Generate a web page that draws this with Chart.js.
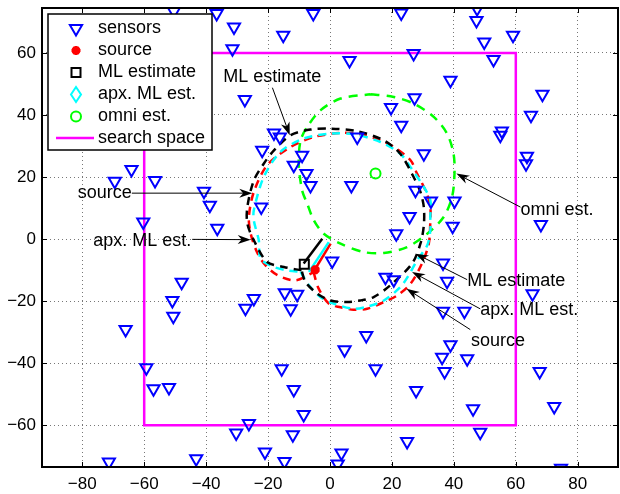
<!DOCTYPE html>
<html lang="en">
<head>
<meta charset="UTF-8">
<title>Source localisation</title>
<script src="https://cdn.jsdelivr.net/npm/chart.js"></script>
<style>
    body { margin: 0; background: #fff; }
    #wrap { width: 620px; height: 494px; }
</style>
</head>
<body>
<div id="wrap"><canvas id="chart" width="620" height="494"></canvas></div>
<script>
    // axis ticks
    const xTicks = [-80, -60, -40, -20, 0, 20, 40, 60, 80];
    const yTicks = [-60, -40, -20, 0, 20, 40, 60];

    // sensor positions
    const sensorX = [-50.4, -36.6, -31.0, -15.1, -5.4, -31.5, -27.5, -18.1, -16.2, -21.9, -9.0, -11.7, -7.6, -6.3,
        -64.1, -69.5, -56.5, -40.7, -38.8, -36.4, -60.3, -22.2, 23.0, 47.5, 47.3, 59.1, 49.8, 52.8, 27.0, 6.3,
        38.9, 68.6, 27.3, 19.7, 64.9, 23.0, 55.5, 55.0, 8.8, 30.3, 63.6, 63.3, 6.9, 27.6, 32.6, 40.2, 25.7, 39.6,
        68.1, 21.4, -47.9, -50.9, -50.6, -66.0, -27.3, -24.6, -14.6, -10.6, -12.7, -59.3, -57.0, -52.0, -15.6,
        -11.7, -8.5, -26.2, -30.3, -12.0, -21.0, -14.7, -43.2, -71.4, 0.7, 17.9, 20.6, 36.5, 37.8, 65.4, 36.5,
        43.4, 11.7, 4.7, 38.9, 36.2, 44.3, 37.0, 14.7, 67.7, 27.8, 46.2, 72.4, 48.5, 24.9, 3.7, 2.5, 74.6];
    const sensorY = [73.5, 72.7, 68.4, 65.7, 72.7, 61.4, 45.0, 34.2, 32.9, 28.6, 27.0, 23.8, 21.1, 17.3,
        22.4, 18.6, 18.9, 15.4, 10.9, 3.5, 5.5, 10.3, 72.9, 74.3, 70.5, 65.7, 63.5, 57.9, 59.8, 57.6,
        51.2, 46.7, 45.6, 42.4, 39.9, 36.7, 34.8, 33.5, 32.9, 27.5, 26.7, 24.3, 17.3, 15.7, 12.3, 12.3, 7.3, 4.1,
        4.7, 1.7, -13.9, -19.8, -24.9, -29.2, -22.3, -19.2, -17.3, -17.8, -22.5, -41.5, -48.3, -47.9, -41.8,
        -48.5, -56.6, -59.5, -62.5, -63.1, -68.7, -71.7, -70.8, -71.9, -7.1, -12.3, -13.1, -7.7, -13.6, -17.6, -23.3,
        -23.3, -31.1, -35.7, -34.1, -38.1, -38.6, -42.7, -41.8, -42.7, -48.8, -54.7, -54.0, -62.3, -65.3, -69.0, -72.5, -73.9];

    // point estimates
    const sourcePos = [-4.8, -9.9];
    const mlPos = [-8.3, -8.1];
    const omniPos = [14.7, 21.1];

    // search space corners
    const searchX = [-60, 60, 60, -60, -60];
    const searchY = [60, 60, -60, -60, 60];

    // dashed contours
    const mlCurveX = [-9.2, -14.9, -20.3, -24.6, -26.7, -26.7, -24.6, -21.4, -18.1, -12.7, -6.3, 0.2, 8.8, 17.4,
        22.7, 27.0, 29.2, 30.3, 30.3, 29.2, 26.5, 19.5, 14.1, 9.8, 5.5, 0.2, -4.1, -7.9, -9.2];
    const mlCurveY = [-10.1, -9.0, -7.4, -0.4, 5.0, 10.3, 18.9, 24.3, 28.6, 33.5, 35.3, 35.6, 34.8, 31.8,
        27.5, 20.0, 15.2, 10.3, 4.4, -1.5, -7.9, -14.9, -18.7, -19.8, -20.3, -19.8, -17.6, -13.9, -10.1];

    const srcCurveX = [-5.3, -3.7, -0.4, 3.4, 7.6, 12.0, 17.4, 21.7, 26.0, 29.7, 31.9, 32.4, 32.4, 31.1, 28.1,
        26.0, 20.6, 16.3, 9.8, 3.4, -5.2, -12.7, -20.3, -24.6, -26.2, -25.6, -23.4, -20.8, -16.9, -11.1, -5.3];
    const srcCurveY = [-10.7, -15.9, -20.8, -22.0, -22.8, -22.5, -20.3, -18.2, -14.4, -7.9, -1.5, 6.0, 10.3, 15.1, 21.1,
        25.4, 29.7, 31.8, 33.8, 34.2, 32.9, 29.7, 23.8, 15.2, 7.1, 1.7, -4.6, -8.5, -11.7, -13.3, -10.7];

    const apxCurveX = [-9.5, -6.8, -3.1, 1.2, 7.7, 12.4, 17.4, 22.7, 25.4, 28.1, 31.4, 32.4, 32.4, 32.4, 30.3,
        26.0, 22.7, 16.3, 7.7, 0.2, -8.5, -16.0, -21.4, -24.6, -24.6, -23.0, -22.4, -18.1, -13.8, -9.5];
    const apxCurveY = [-10.6, -14.9, -18.7, -20.8, -22.5, -21.7, -19.8, -15.5, -11.7, -6.9, -2.0, 2.8, 7.1, 12.5, 16.8,
        23.2, 27.5, 31.3, 33.8, 34.0, 32.4, 28.1, 20.0, 9.3, 6.0, -0.4, -6.3, -9.0, -10.1, -10.6];

    const omniCurveX = [13.1, 20.6, 27.0, 33.5, 37.8, 39.9, 40.2, 39.4, 36.7, 31.4, 24.9, 17.4, 10.9, 3.4,
        -2.0, -5.2, -7.4, -9.0, -10.1, -9.5, -7.4, -3.1, 3.4, 13.1];
    const omniCurveY = [46.7, 45.8, 43.7, 39.4, 34.0, 27.5, 21.1, 13.5, 7.1, 1.7, -2.6, -4.5, -4.2, -1.5,
        1.7, 6.0, 11.5, 15.7, 24.3, 31.8, 36.1, 41.5, 45.3, 46.7];

    // heading segments (start, end)
    const mlHeadX = [-8.5, -2.5];
    const mlHeadY = [-7.9, 0.1];
    const srcHeadX = [-4.7, 0.2];
    const srcHeadY = [-9.5, -1.5];
    const apxHeadX = [-6.8, -0.4];
    const apxHeadY = [-10.6, -1.0];

    // text annotations: label, text anchor, arrow tail, arrow head (data units)
    const notes = [
        { text: 'ML estimate', tx: -34.5, ty: 52.2, align: 'left', from: [-18.6, 48.8], to: [-13.0, 33.5] },
        { text: 'source', tx: -64.0, ty: 14.8, align: 'right', from: [-64.0, 14.8], to: [-25.1, 14.8] },
        { text: 'apx. ML est.', tx: -44.8, ty: -0.7, align: 'right', from: [-44.5, -0.1], to: [-25.6, -0.2] },
        { text: 'omni est.', tx: 61.5, ty: 9.5, align: 'left', from: [61.5, 10.3], to: [40.8, 21.1] },
        { text: 'ML estimate', tx: 44.3, ty: -13.6, align: 'left', from: [44.3, -13.1], to: [27.6, -4.7] },
        { text: 'apx. ML est.', tx: 48.5, ty: -23.0, align: 'left', from: [48.5, -22.5], to: [26.5, -10.6] },
        { text: 'source', tx: 45.5, ty: -32.9, align: 'left', from: [45.3, -29.2], to: [24.7, -16.0] }
    ];

    const FONT = "'Liberation Sans', Arial, Helvetica, sans-serif";

    function pts(xs, ys) {
        return xs.map((x, i) => ({ x: x, y: ys[i] }));
    }

    function curve(xs, ys, color, dash) {
        return {
            data: pts(xs, ys), showLine: true, borderColor: color, borderWidth: 2.5,
            borderDash: dash, pointRadius: 0, tension: 0.3, fill: false
        };
    }

    function segment(xs, ys, color) {
        return { data: pts(xs, ys), showLine: true, borderColor: color, borderWidth: 2.5, pointRadius: 0 };
    }

    function minus(v) {
        return String(v).replace('-', '\u2212');
    }

    // the scales should not push the plot area in
    function noPadding(s) {
        s.paddingLeft = 0; s.paddingRight = 0; s.paddingTop = 0; s.paddingBottom = 0;
    }

    // arrow with a swept-back head
    function drawArrow(ctx, x1, y1, x2, y2) {
        const ang = Math.atan2(y2 - y1, x2 - x1);
        const len = 13, half = 4.5;
        ctx.beginPath();
        ctx.moveTo(x1, y1);
        ctx.lineTo(x2 - Math.cos(ang) * 6, y2 - Math.sin(ang) * 6);
        ctx.lineWidth = 1;
        ctx.strokeStyle = '#000';
        ctx.stroke();
        ctx.beginPath();
        ctx.moveTo(x2, y2);
        ctx.lineTo(x2 - Math.cos(ang) * len - Math.sin(ang) * half, y2 - Math.sin(ang) * len + Math.cos(ang) * half);
        ctx.lineTo(x2 - Math.cos(ang) * len * 0.7, y2 - Math.sin(ang) * len * 0.7);
        ctx.lineTo(x2 - Math.cos(ang) * len + Math.sin(ang) * half, y2 - Math.sin(ang) * len - Math.cos(ang) * half);
        ctx.closePath();
        ctx.fillStyle = '#000';
        ctx.fill();
    }

    const notesPlugin = {
        id: 'notes',
        afterDatasetsDraw(chart) {
            const ctx = chart.ctx, xs = chart.scales.x, ys = chart.scales.y;
            ctx.save();
            ctx.font = '18px ' + FONT;
            ctx.textBaseline = 'middle';
            ctx.fillStyle = '#000';
            notes.forEach(n => {
                drawArrow(ctx, xs.getPixelForValue(n.from[0]), ys.getPixelForValue(n.from[1]),
                    xs.getPixelForValue(n.to[0]), ys.getPixelForValue(n.to[1]));
                ctx.textAlign = n.align;
                ctx.fillText(n.text, xs.getPixelForValue(n.tx), ys.getPixelForValue(n.ty));
            });
            ctx.restore();
        }
    };

    // axes box and inner ticks, MATLAB style
    const boxPlugin = {
        id: 'box',
        afterDraw(chart) {
            const ctx = chart.ctx, a = chart.chartArea;
            const xs = chart.scales.x, ys = chart.scales.y;
            ctx.save();
            ctx.strokeStyle = '#000';
            ctx.lineWidth = 1;
            ctx.beginPath();
            xTicks.forEach(v => {
                const p = Math.round(xs.getPixelForValue(v)) + 0.5;
                ctx.moveTo(p, a.bottom); ctx.lineTo(p, a.bottom - 5);
                ctx.moveTo(p, a.top); ctx.lineTo(p, a.top + 5);
            });
            yTicks.forEach(v => {
                const p = Math.round(ys.getPixelForValue(v)) + 0.5;
                ctx.moveTo(a.left, p); ctx.lineTo(a.left + 5, p);
                ctx.moveTo(a.right, p); ctx.lineTo(a.right - 5, p);
            });
            ctx.stroke();
            ctx.lineWidth = 2;
            ctx.strokeRect(a.left, a.top, a.right - a.left, a.bottom - a.top);
            ctx.restore();
        }
    };

    // legend box in the upper left corner
    const legendPlugin = {
        id: 'matlabLegend',
        afterDraw(chart) {
            const ctx = chart.ctx;
            const bx = 48, by = 14, bw = 164, bh = 136;
            const mx = 76, tx = 98;
            const rows = [28.5, 50.5, 72.5, 94.5, 116.5, 138];
            const labels = ['sensors', 'source', 'ML estimate', 'apx. ML est.', 'omni est.', 'search space'];
            ctx.save();
            ctx.fillStyle = '#fff';
            ctx.fillRect(bx, by, bw, bh);
            ctx.strokeStyle = '#000';
            ctx.lineWidth = 1.5;
            ctx.strokeRect(bx, by, bw, bh);

            // sensors
            ctx.lineWidth = 2;
            ctx.strokeStyle = '#0000ff';
            ctx.beginPath();
            ctx.moveTo(mx - 6.1, rows[0] - 3.5);
            ctx.lineTo(mx + 6.1, rows[0] - 3.5);
            ctx.lineTo(mx, rows[0] + 7);
            ctx.closePath();
            ctx.stroke();
            // source
            ctx.strokeStyle = '#ff0000';
            ctx.lineWidth = 3;
            ctx.beginPath();
            for (let k = 0; k < 4; k++) {
                const an = k * Math.PI / 4;
                ctx.moveTo(mx - Math.cos(an) * 4.5, rows[1] - Math.sin(an) * 4.5);
                ctx.lineTo(mx + Math.cos(an) * 4.5, rows[1] + Math.sin(an) * 4.5);
            }
            ctx.stroke();
            // ML estimate
            ctx.strokeStyle = '#000';
            ctx.lineWidth = 2;
            ctx.strokeRect(mx - 4.5, rows[2] - 4.5, 9, 9);
            // apx ML
            ctx.strokeStyle = '#00ffff';
            ctx.beginPath();
            ctx.moveTo(mx, rows[3] - 7.5);
            ctx.lineTo(mx + 5, rows[3]);
            ctx.lineTo(mx, rows[3] + 7.5);
            ctx.lineTo(mx - 5, rows[3]);
            ctx.closePath();
            ctx.stroke();
            // omni
            ctx.strokeStyle = '#00ff00';
            ctx.beginPath();
            ctx.arc(mx, rows[4], 5, 0, Math.PI * 2);
            ctx.stroke();
            // search space
            ctx.strokeStyle = '#ff00ff';
            ctx.lineWidth = 2.5;
            ctx.beginPath();
            ctx.moveTo(56, rows[5]);
            ctx.lineTo(94, rows[5]);
            ctx.stroke();

            ctx.fillStyle = '#000';
            ctx.font = '18px ' + FONT;
            ctx.textAlign = 'left';
            ctx.textBaseline = 'middle';
            labels.forEach((l, i) => ctx.fillText(l, tx, rows[i]));
            ctx.restore();
        }
    };

    const ctx = document.getElementById('chart').getContext('2d');
    const chart = new Chart(ctx, {
        type: 'scatter',
        data: {
            datasets: [
                {
                    label: 'sensors', data: pts(sensorX, sensorY), pointStyle: 'triangle', rotation: 180,
                    radius: 7, borderWidth: 2, borderColor: '#0000ff', backgroundColor: 'rgba(0,0,0,0)'
                },
                {
                    label: 'ML estimate', data: [{ x: mlPos[0], y: mlPos[1] }], pointStyle: 'rect',
                    radius: 6.4, borderWidth: 2, borderColor: '#000', backgroundColor: 'rgba(0,0,0,0)'
                },
                {
                    label: 'source', data: [{ x: sourcePos[0], y: sourcePos[1] }], pointStyle: 'star',
                    radius: 4.5, borderWidth: 3.5, borderColor: '#ff0000', backgroundColor: '#ff0000'
                },
                {
                    label: 'omni est.', data: [{ x: omniPos[0], y: omniPos[1] }], pointStyle: 'circle',
                    radius: 5, borderWidth: 2, borderColor: '#00ff00', backgroundColor: 'rgba(0,0,0,0)'
                },
                Object.assign({ label: 'ml head' }, segment(mlHeadX, mlHeadY, '#000')),
                Object.assign({ label: 'apx head' }, segment(apxHeadX, apxHeadY, '#00ffff')),
                Object.assign({ label: 'src head' }, segment(srcHeadX, srcHeadY, '#ff0000')),
                Object.assign({ label: 'ml contour' }, curve(mlCurveX, mlCurveY, '#000', [8, 6])),
                Object.assign({ label: 'apx contour' }, curve(apxCurveX, apxCurveY, '#00ffff', [8, 6])),
                Object.assign({ label: 'src contour' }, curve(srcCurveX, srcCurveY, '#ff0000', [8, 6])),
                Object.assign({ label: 'omni contour' }, curve(omniCurveX, omniCurveY, '#00ff00', [9, 7])),
                {
                    label: 'search space', data: pts(searchX, searchY), showLine: true,
                    borderColor: '#ff00ff', borderWidth: 2.5, pointRadius: 0
                }
            ]
        },
        options: {
            responsive: false,
            animation: false,
            layout: { autoPadding: false, padding: { left: 0, top: 8, right: 2, bottom: 0 } },
            plugins: { legend: { display: false }, tooltip: { enabled: false } },
            scales: {
                x: {
                    type: 'linear', min: -93, max: 93,
                    afterBuildTicks: s => { s.ticks = xTicks.map(v => ({ value: v })); },
                    afterFit: s => { s.height = 27; noPadding(s); },
                    grid: { color: '#777', lineWidth: 1, drawTicks: false },
                    border: { display: false, dash: [1, 3] },
                    ticks: { color: '#000', font: { family: FONT, size: 17 }, padding: 7, callback: minus }
                },
                y: {
                    type: 'linear', min: -73.5, max: 74.5,
                    afterBuildTicks: s => { s.ticks = yTicks.map(v => ({ value: v })); },
                    afterFit: s => { s.width = 42; noPadding(s); },
                    grid: { color: '#777', lineWidth: 1, drawTicks: false },
                    border: { display: false, dash: [1, 3] },
                    ticks: { color: '#000', font: { family: FONT, size: 17 }, padding: 6, callback: minus }
                }
            }
        },
        plugins: [notesPlugin, boxPlugin, legendPlugin]
    });
</script>
</body>
</html>
